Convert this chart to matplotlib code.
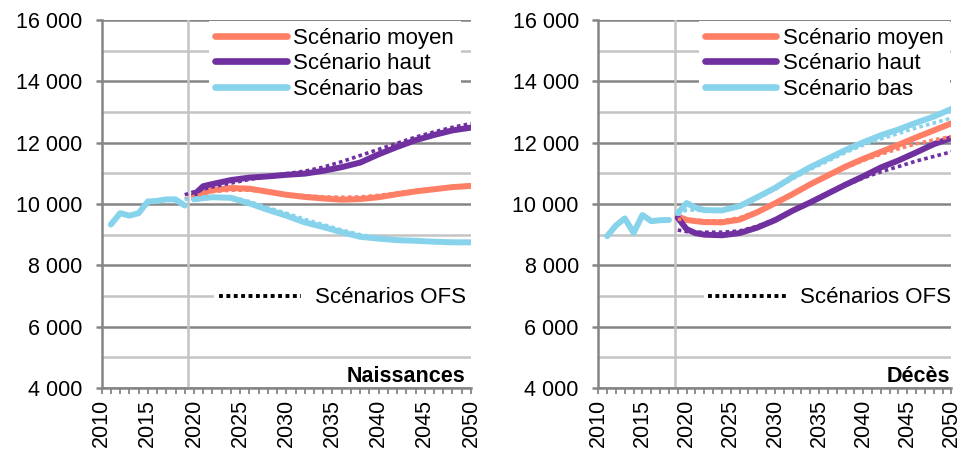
import matplotlib
matplotlib.use("Agg")
import matplotlib.pyplot as plt
from matplotlib.lines import Line2D
from matplotlib.ticker import MultipleLocator, FuncFormatter

plt.rcParams['font.family'] = ['Liberation Sans', 'DejaVu Sans']

# --- data ---
years_hist_births = [2011, 2012, 2013, 2014, 2015, 2016, 2017, 2018, 2019]
births_hist = [9330, 9700, 9620, 9700, 10080, 10100, 10150, 10150, 9950]

years_hist_deaths = [2011, 2012, 2013, 2014, 2015, 2016, 2017, 2018]
deaths_hist = [8950, 9300, 9530, 9060, 9640, 9440, 9470, 9480]

years_proj_births = [2020, 2021, 2022, 2024, 2026, 2028, 2030, 2032, 2034,
                     2036, 2038, 2040, 2042, 2044, 2046, 2048, 2050]
births_moyen = [10200, 10380, 10450, 10520, 10500, 10400, 10300, 10230, 10180,
                10140, 10160, 10220, 10320, 10410, 10480, 10550, 10590]
births_haut = [10300, 10580, 10650, 10780, 10860, 10900, 10950, 10990, 11080,
               11200, 11350, 11620, 11860, 12080, 12250, 12400, 12490]
births_bas = [10150, 10190, 10220, 10200, 10020, 9810, 9620, 9400, 9250,
              9080, 8930, 8870, 8820, 8800, 8770, 8750, 8750]

years_ofs = [2019, 2020, 2021, 2022, 2024, 2026, 2028, 2030, 2032, 2034,
             2036, 2038, 2040, 2042, 2044, 2046, 2048, 2050]
births_ofs_moyen = [10150, 10250, 10330, 10400, 10450, 10450, 10400, 10330, 10270,
                    10230, 10220, 10230, 10280, 10360, 10440, 10510, 10570, 10620]
births_ofs_haut = [10300, 10400, 10480, 10560, 10680, 10800, 10900, 10990, 11070,
                   11200, 11380, 11580, 11780, 11980, 12180, 12350, 12500, 12620]
births_ofs_bas = [10150, 10170, 10200, 10220, 10230, 10080, 9880, 9700, 9500,
                  9330, 9150, 9000, 8900, 8840, 8800, 8780, 8760, 8750]

years_proj_deaths = [2019, 2020, 2021, 2022, 2024, 2026, 2028, 2030, 2032, 2034,
                     2036, 2038, 2040, 2042, 2044, 2046, 2048, 2050]
deaths_moyen = [9600, 9480, 9440, 9410, 9400, 9490, 9730, 10020, 10320, 10640,
                10930, 11220, 11470, 11700, 11930, 12170, 12400, 12630]
deaths_haut = [9550, 9180, 9050, 9000, 8980, 9050, 9230, 9470, 9780, 10050,
               10340, 10630, 10900, 11190, 11420, 11680, 11950, 12150]
deaths_bas = [9700, 10030, 9880, 9800, 9790, 9930, 10220, 10520, 10880, 11200,
              11480, 11760, 12010, 12240, 12430, 12650, 12850, 13100]
deaths_ofs_moyen = [9500, 9500, 9480, 9450, 9450, 9550, 9760, 10030, 10320, 10620,
                    10900, 11180, 11420, 11620, 11800, 11960, 12090, 12200]
deaths_ofs_haut = [9150, 9100, 9080, 9080, 9080, 9120, 9270, 9500, 9780, 10050,
                   10330, 10600, 10850, 11050, 11220, 11400, 11550, 11700]
deaths_ofs_bas = [9650, 9800, 9800, 9780, 9780, 9900, 10180, 10480, 10820, 11130,
                  11400, 11680, 11920, 12120, 12300, 12480, 12640, 12800]

labels = ['Scénario moyen', 'Scénario haut', 'Scénario bas']
colors = ['#FF7F66', '#7030A0', '#87D3EC']

DOT = (0, (1, 0.9))
FS = 15.5


def thousands(v, pos):
    return f"{int(v):,}".replace(",", " ")


def draw_panel(ax, yh, vh, yp, series, yo, ofs, split, title, title_x,
               leg_x, ofs_x, ofs_len):
    ax.set_xlim(2010, 2050)
    ax.set_ylim(4000, 16000)
    ax.yaxis.set_major_locator(MultipleLocator(2000))
    ax.yaxis.set_minor_locator(MultipleLocator(1000))
    ax.xaxis.set_major_locator(MultipleLocator(5))
    ax.xaxis.set_minor_locator(MultipleLocator(1))
    ax.yaxis.set_major_formatter(FuncFormatter(thousands))
    ax.grid(axis='y', which='major', color='#858585', lw=1.8)
    ax.grid(axis='y', which='minor', color='#c4c4c4', lw=1.8)
    for s in ['top', 'right']:
        ax.spines[s].set_visible(False)
    for s in ['left', 'bottom']:
        ax.spines[s].set_color('#858585')
        ax.spines[s].set_linewidth(1.8)
    ax.tick_params(axis='y', which='major', length=4, width=1.8, color='#858585',
                   pad=10, labelsize=FS)
    ax.tick_params(axis='y', which='minor', length=0)
    ax.tick_params(axis='x', which='both', length=4, width=1.3, color='#858585',
                   direction='out', labelsize=FS, pad=4)
    for lab in ax.get_xticklabels():
        lab.set_rotation(90)
    ax.axvline(split, color='#c4c4c4', lw=1.8, zorder=1.8)

    ax.plot(yh, vh, color=colors[2], lw=4.3, solid_capstyle='round',
            solid_joinstyle='round', zorder=3)
    for vals, c in zip(series, colors):
        ax.plot(yp, vals, color=c, lw=4.3, solid_capstyle='round',
                solid_joinstyle='round', zorder=3)
    for vals, c in zip(ofs, colors):
        ax.plot(yo, vals, color=c, lw=2.6, ls=DOT, zorder=4)

    handles = [Line2D([], [], color=c, lw=4.8, solid_capstyle='round') for c in colors]
    leg1 = ax.legend(handles, labels, loc='upper right', bbox_to_anchor=(leg_x, 1.0),
                     fontsize=16, frameon=True, fancybox=False, framealpha=1,
                     edgecolor='none', handlelength=3.2, handletextpad=0.3,
                     labelspacing=0.2, borderpad=0.3, borderaxespad=0.05)
    leg1.set_zorder(5)
    ax.add_artist(leg1)
    h2 = [Line2D([], [], color='black', lw=2.8, ls=DOT)]
    leg2 = ax.legend(h2, ['Scénarios OFS'], loc='center right',
                     bbox_to_anchor=(ofs_x, 0.245), fontsize=16, frameon=True,
                     fancybox=False, framealpha=1, edgecolor='none',
                     handlelength=ofs_len, handletextpad=0.65, borderpad=0.2,
                     borderaxespad=0)
    leg2.set_zorder(5)
    ax.text(title_x, 0.03, title, transform=ax.transAxes, ha='right', va='center',
            fontsize=FS, fontweight='bold', zorder=6)


fig = plt.figure(figsize=(9.7, 4.54), dpi=100)
ax1 = fig.add_axes([0.1048, 0.1454, 0.3807, 0.8106])
ax2 = fig.add_axes([0.6168, 0.1454, 0.3641, 0.8106])

draw_panel(ax1, years_hist_births, births_hist, years_proj_births,
           [births_moyen, births_haut, births_bas], years_ofs,
           [births_ofs_moyen, births_ofs_haut, births_ofs_bas], 2019.4,
           'Naissances', 0.985, 0.975, 1.0, 3.7)
draw_panel(ax2, years_hist_deaths, deaths_hist, years_proj_deaths,
           [deaths_moyen, deaths_haut, deaths_bas], years_proj_deaths,
           [deaths_ofs_moyen, deaths_ofs_haut, deaths_ofs_bas], 2018.7,
           'Décès', 0.997, 1.0, 1.012, 3.5)

fig.savefig('out.png', dpi=100)
